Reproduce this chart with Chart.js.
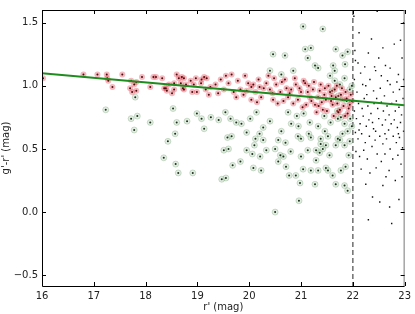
<!DOCTYPE html>
<html>
<head>
<meta charset="utf-8">
<script src="https://cdn.jsdelivr.net/npm/chart.js@4"></script>
<style>
  html, body { margin: 0; padding: 0; background: #fff; }
  #wrap { width: 415px; height: 314px; }
</style>
</head>
<body>
<div id="wrap"><canvas id="cmd"></canvas></div>
<script>
// r' magnitude / g'-r' colour of the red (on sequence) stars
const redR = [16.02,16.80,17.07,17.25,17.26,17.28,17.36,17.55,17.72,17.70,17.74,17.82,17.78,17.82,17.93,18.09,18.15,18.20,18.32,18.36,
  18.41,18.45,18.51,18.55,18.60,18.64,18.68,18.72,18.74,18.78,18.87,18.90,18.97,18.99,19.07,19.13,19.16,18.39,18.55,18.70,
  18.74,18.93,19.08,19.18,19.22,19.25,19.35,19.45,19.51,19.60,19.70,19.66,19.75,19.83,19.89,19.98,20.04,20.12,20.08,20.04,
  20.18,20.23,20.33,20.40,20.46,20.52,20.60,20.69,20.75,20.81,20.90,20.94,21.00,21.08,21.10,21.17,21.23,21.27,21.33,21.38,
  21.42,21.48,21.56,21.61,21.67,21.75,21.80,21.86,21.94,21.90,19.92,20.15,20.28,20.37,20.55,20.63,20.72,20.85,20.88,20.97,
  21.03,21.05,21.13,21.20,21.25,21.30,21.36,21.40,21.45,21.50,21.53,21.58,21.63,21.65,21.70,21.72,21.77,21.82,21.85,21.88,
  21.92,21.96,21.98,19.40,19.55,19.78,19.95,20.20,20.45,20.48,20.66,20.78,21.15,21.34,21.46,21.59,21.69,21.79];
const redGR = [1.06,1.09,1.09,1.09,1.06,1.04,0.99,1.09,1.04,0.98,0.95,0.96,1.01,1.03,1.07,0.99,1.07,1.07,1.06,0.98,
  0.96,1.01,0.94,1.02,1.09,1.06,1.02,0.98,1.06,1.01,1.04,0.95,1.06,0.95,1.02,1.07,0.97,0.98,0.97,1.07,
  0.97,1.01,1.05,1.06,0.93,0.99,1.01,1.05,0.97,1.02,0.95,1.09,0.91,0.97,0.93,1.02,0.89,0.95,1.01,0.99,
  1.05,0.91,1.02,0.97,0.89,1.01,0.95,1.05,0.91,0.97,1.01,0.89,0.95,1.02,0.85,0.91,0.97,0.85,0.91,1.01,
  0.81,0.89,0.95,0.85,0.91,0.81,0.89,0.95,0.85,0.78,1.08,0.87,0.98,1.08,0.86,1.03,0.98,0.86,1.06,0.98,
  0.83,1.04,0.95,0.88,1.03,0.79,0.96,0.87,0.93,0.80,1.00,0.88,0.76,0.97,0.86,0.79,0.93,0.84,0.76,0.90,
  0.82,0.93,0.88,0.94,1.08,1.04,0.96,0.99,0.94,1.06,0.88,0.94,1.00,0.84,0.98,0.92,1.00,0.98];

// the green (off sequence) stars
const greenR = [17.23,17.72,17.84,17.78,18.09,17.80,18.53,18.60,18.80,18.99,19.08,19.13,18.57,18.43,18.35,18.58,18.63,18.91,20.50,20.96,
  21.27,19.47,19.55,19.68,19.83,20.08,20.23,20.71,20.77,20.90,20.98,21.19,21.33,21.48,21.61,21.67,21.84,21.90,21.77,21.86,
  19.51,19.58,19.66,19.95,20.06,20.10,20.12,20.27,20.21,20.33,20.50,20.60,20.66,20.56,20.80,20.94,21.00,21.00,21.19,21.38,
  21.29,21.29,21.36,21.42,21.48,21.67,21.84,21.94,21.75,21.04,21.52,21.04,21.42,20.46,20.69,21.08,21.19,21.67,21.80,21.90,
  21.27,21.33,21.13,21.65,20.40,20.62,20.85,19.26,19.41,19.54,19.64,19.75,19.85,20.02,20.14,20.27,20.40,20.62,20.75,20.81,
  20.56,19.60,21.17,21.33,21.46,21.57,21.71,21.77,21.84,21.90,21.71,21.52,21.38,21.13,21.56,21.65,21.75,21.84,21.94,21.88,
  21.72,21.60,21.95,21.80,21.92,21.55,21.15,20.95,20.70,20.20,19.95,21.98,21.70,21.98,21.62,21.85,20.92,21.05,21.45];
const greenGR = [0.81,0.74,0.76,0.65,0.71,0.91,0.82,0.71,0.72,0.78,0.74,0.66,0.62,0.56,0.43,0.38,0.31,0.31,0.00,0.09,
  0.22,0.26,0.27,0.37,0.40,0.35,0.33,0.36,0.29,0.29,0.23,0.33,0.33,0.35,0.29,0.22,0.21,0.17,0.33,0.36,
  0.49,0.59,0.60,0.49,0.46,0.53,0.58,0.57,0.44,0.49,0.50,0.45,0.44,0.40,0.48,0.60,0.58,0.44,0.59,0.58,
  0.49,0.41,0.47,0.50,0.53,0.53,0.53,0.56,0.57,0.34,0.33,1.47,1.45,1.25,1.24,1.29,1.30,1.29,1.24,1.27,
  1.16,1.14,1.22,1.12,1.12,1.09,1.12,0.75,0.73,0.79,0.74,0.71,0.70,0.74,0.79,0.67,0.72,0.64,0.79,0.70,
  0.57,0.50,0.71,0.68,0.64,0.71,0.74,0.75,0.70,0.64,0.58,0.60,0.54,0.49,1.08,1.04,1.01,1.06,0.97,0.88,
  0.92,0.96,0.74,0.62,0.45,0.45,0.62,0.68,0.55,0.62,0.63,1.00,0.80,0.68,1.16,1.17,0.76,0.78,0.76];

// faint stars beyond the r' = 22 limit
const faintR = [22.04,22.05,22.36,22.92,22.50,22.63,22.23,22.42,22.72,22.88,22.19,22.53,22.72,22.90,22.47,22.02,22.98,22.12,22.80,22.30,
  22.58,22.95,22.15,22.08,22.27,22.33,22.40,22.46,22.61,22.78,22.84,22.97,22.11,22.18,22.22,22.29,22.35,22.41,22.48,22.55,
  22.59,22.66,22.70,22.75,22.82,22.89,22.94,22.03,22.07,22.14,22.20,22.26,22.31,22.38,22.44,22.50,22.57,22.63,22.69,22.74,
  22.80,22.86,22.92,22.98,22.05,22.10,22.17,22.24,22.32,22.37,22.43,22.52,22.58,22.65,22.72,22.78,22.84,22.90,22.96,22.06,
  22.13,22.21,22.28,22.47,22.55,22.62,22.77,22.87,22.93,22.16,22.33,22.45,22.70,22.82,22.95,22.25,22.58,22.64,22.38,22.52,
  22.71,22.89,22.30,22.75,22.03,22.10,22.55,22.67,22.85,22.44,22.98,22.25,22.12,22.40,22.62,22.88];
const faintGR = [1.28,1.20,1.37,1.36,1.22,1.16,1.15,1.15,1.14,1.09,1.01,0.98,1.01,0.97,1.59,1.55,1.50,1.42,1.33,1.26,
  1.30,1.22,1.10,0.95,0.93,1.05,0.96,0.90,0.92,0.95,0.88,0.90,0.86,0.82,0.90,0.84,0.78,0.86,0.82,0.87,
  0.80,0.84,0.77,0.86,0.80,0.83,0.77,0.80,0.74,0.70,0.76,0.68,0.73,0.71,0.64,0.74,0.69,0.73,0.65,0.70,
  0.73,0.67,0.71,0.64,0.63,0.58,0.62,0.55,0.60,0.52,0.57,0.60,0.54,0.58,0.50,0.60,0.55,0.59,0.51,0.48,
  0.44,0.49,0.42,0.46,0.40,0.46,0.42,0.45,0.38,0.34,0.31,0.35,0.33,0.25,0.28,0.22,0.21,0.28,0.12,0.08,
  0.04,0.10,-0.06,-0.09,1.05,1.18,1.08,1.04,1.03,1.12,1.05,1.00,0.65,0.66,0.62,0.62];

// linear fit of the sequence and the magnitude limit
const fitR = [16, 23];
const fitGR = [1.10, 0.845];
const limitR = 22;

const yTicks = [-0.5, 0, 0.5, 1.0, 1.5];

function toPoints(xs, ys) {
    return xs.map((x, i) => ({x: x, y: ys[i]}));
}

// frame, inward ticks and the dashed limit line
const framePlugin = {
    id: 'frame',
    beforeDatasetsDraw(chart) {
        const {ctx, chartArea: a, scales: {x}} = chart;
        const px = x.getPixelForValue(limitR);
        ctx.save();
        ctx.strokeStyle = '#777';
        ctx.lineWidth = 1.6;
        ctx.setLineDash([5, 3]);
        ctx.beginPath();
        ctx.moveTo(px, a.top);
        ctx.lineTo(px, a.bottom);
        ctx.stroke();
        ctx.restore();
    },
    afterDraw(chart) {
        const {ctx, chartArea: a, scales: {x, y}} = chart;
        ctx.save();
        ctx.strokeStyle = '#000';
        ctx.lineWidth = 1;
        ctx.beginPath();
        ctx.moveTo(a.right, a.top + 0.5);
        ctx.lineTo(a.left + 0.5, a.top + 0.5);
        ctx.lineTo(a.left + 0.5, a.bottom + 0.5);
        ctx.lineTo(a.right, a.bottom + 0.5);
        ctx.stroke();
        ctx.strokeStyle = '#777';
        ctx.beginPath();
        ctx.moveTo(a.right - 0.5, a.top);
        ctx.lineTo(a.right - 0.5, a.bottom);
        ctx.stroke();
        ctx.strokeStyle = '#000';
        ctx.beginPath();
        for (let v = 16; v <= 23; v++) {
            const p = Math.round(x.getPixelForValue(v)) + 0.5;
            ctx.moveTo(p, a.bottom);
            ctx.lineTo(p, a.bottom - 4);
            ctx.moveTo(p, a.top);
            ctx.lineTo(p, a.top + 4);
        }
        yTicks.forEach(v => {
            const p = Math.round(y.getPixelForValue(v)) + 0.5;
            ctx.moveTo(a.left, p);
            ctx.lineTo(a.left + 4, p);
            ctx.moveTo(a.right, p);
            ctx.lineTo(a.right - 4, p);
        });
        ctx.stroke();
        ctx.restore();
    }
};

const redPts = toPoints(redR, redGR);
const greenPts = toPoints(greenR, greenGR);

new Chart(document.getElementById('cmd'), {
    type: 'scatter',
    data: {
        datasets: [
            {
                label: 'fit',
                type: 'line',
                data: toPoints(fitR, fitGR),
                borderColor: '#1e8c1e',
                borderWidth: 2,
                pointRadius: 0,
                order: 1
            },
            {
                label: 'faint',
                data: toPoints(faintR, faintGR),
                pointStyle: 'rect',
                pointRadius: 1,
                backgroundColor: '#111',
                borderWidth: 0,
                order: 2
            },
            {
                label: 'red dot',
                data: redPts,
                pointRadius: 1,
                backgroundColor: '#4a0c0c',
                borderWidth: 0,
                order: 3
            },
            {
                label: 'red',
                data: redPts,
                pointRadius: 3,
                backgroundColor: 'rgba(220,55,70,0.35)',
                borderWidth: 0,
                order: 4
            },
            {
                label: 'green dot',
                data: greenPts,
                pointRadius: 1,
                backgroundColor: '#1c2c1c',
                borderWidth: 0,
                order: 5
            },
            {
                label: 'green',
                data: greenPts,
                pointRadius: 3,
                backgroundColor: 'rgba(170,205,170,0.35)',
                borderColor: 'rgba(110,150,110,0.5)',
                borderWidth: 0.6,
                order: 6
            }
        ]
    },
    options: {
        responsive: true,
        maintainAspectRatio: false,
        animation: false,
        layout: {padding: {top: 4, right: 8, left: 0, bottom: 0}},
        plugins: {legend: {display: false}, tooltip: {enabled: false}},
        scales: {
            x: {
                type: 'linear',
                min: 16,
                max: 23,
                grid: {display: false, drawTicks: false},
                border: {display: false},
                ticks: {
                    stepSize: 1,
                    padding: 4,
                    color: '#222',
                    font: {family: 'DejaVu Sans', size: 10}
                },
                title: {
                    display: true,
                    text: "r' (mag)",
                    color: '#222',
                    padding: {top: 0, bottom: 1},
                    font: {family: 'DejaVu Sans', size: 10}
                },
                afterFit(scale) { scale.height = 28; }
            },
            y: {
                type: 'linear',
                min: -0.585,
                max: 1.6,
                grid: {display: false, drawTicks: false},
                border: {display: false},
                afterBuildTicks(scale) {
                    scale.ticks = yTicks.map(v => ({value: v}));
                },
                ticks: {
                    padding: 4,
                    color: '#222',
                    font: {family: 'DejaVu Sans', size: 10},
                    callback: v => v < 0 ? '\u2212' + Math.abs(v).toFixed(1) : v.toFixed(1)
                },
                title: {
                    display: true,
                    text: "g'-r' (mag)",
                    color: '#222',
                    padding: {top: 0, bottom: 2},
                    font: {family: 'DejaVu Sans', size: 10}
                },
                afterFit(scale) { scale.width = 42; }
            }
        }
    },
    plugins: [framePlugin]
});
</script>
</body>
</html>
